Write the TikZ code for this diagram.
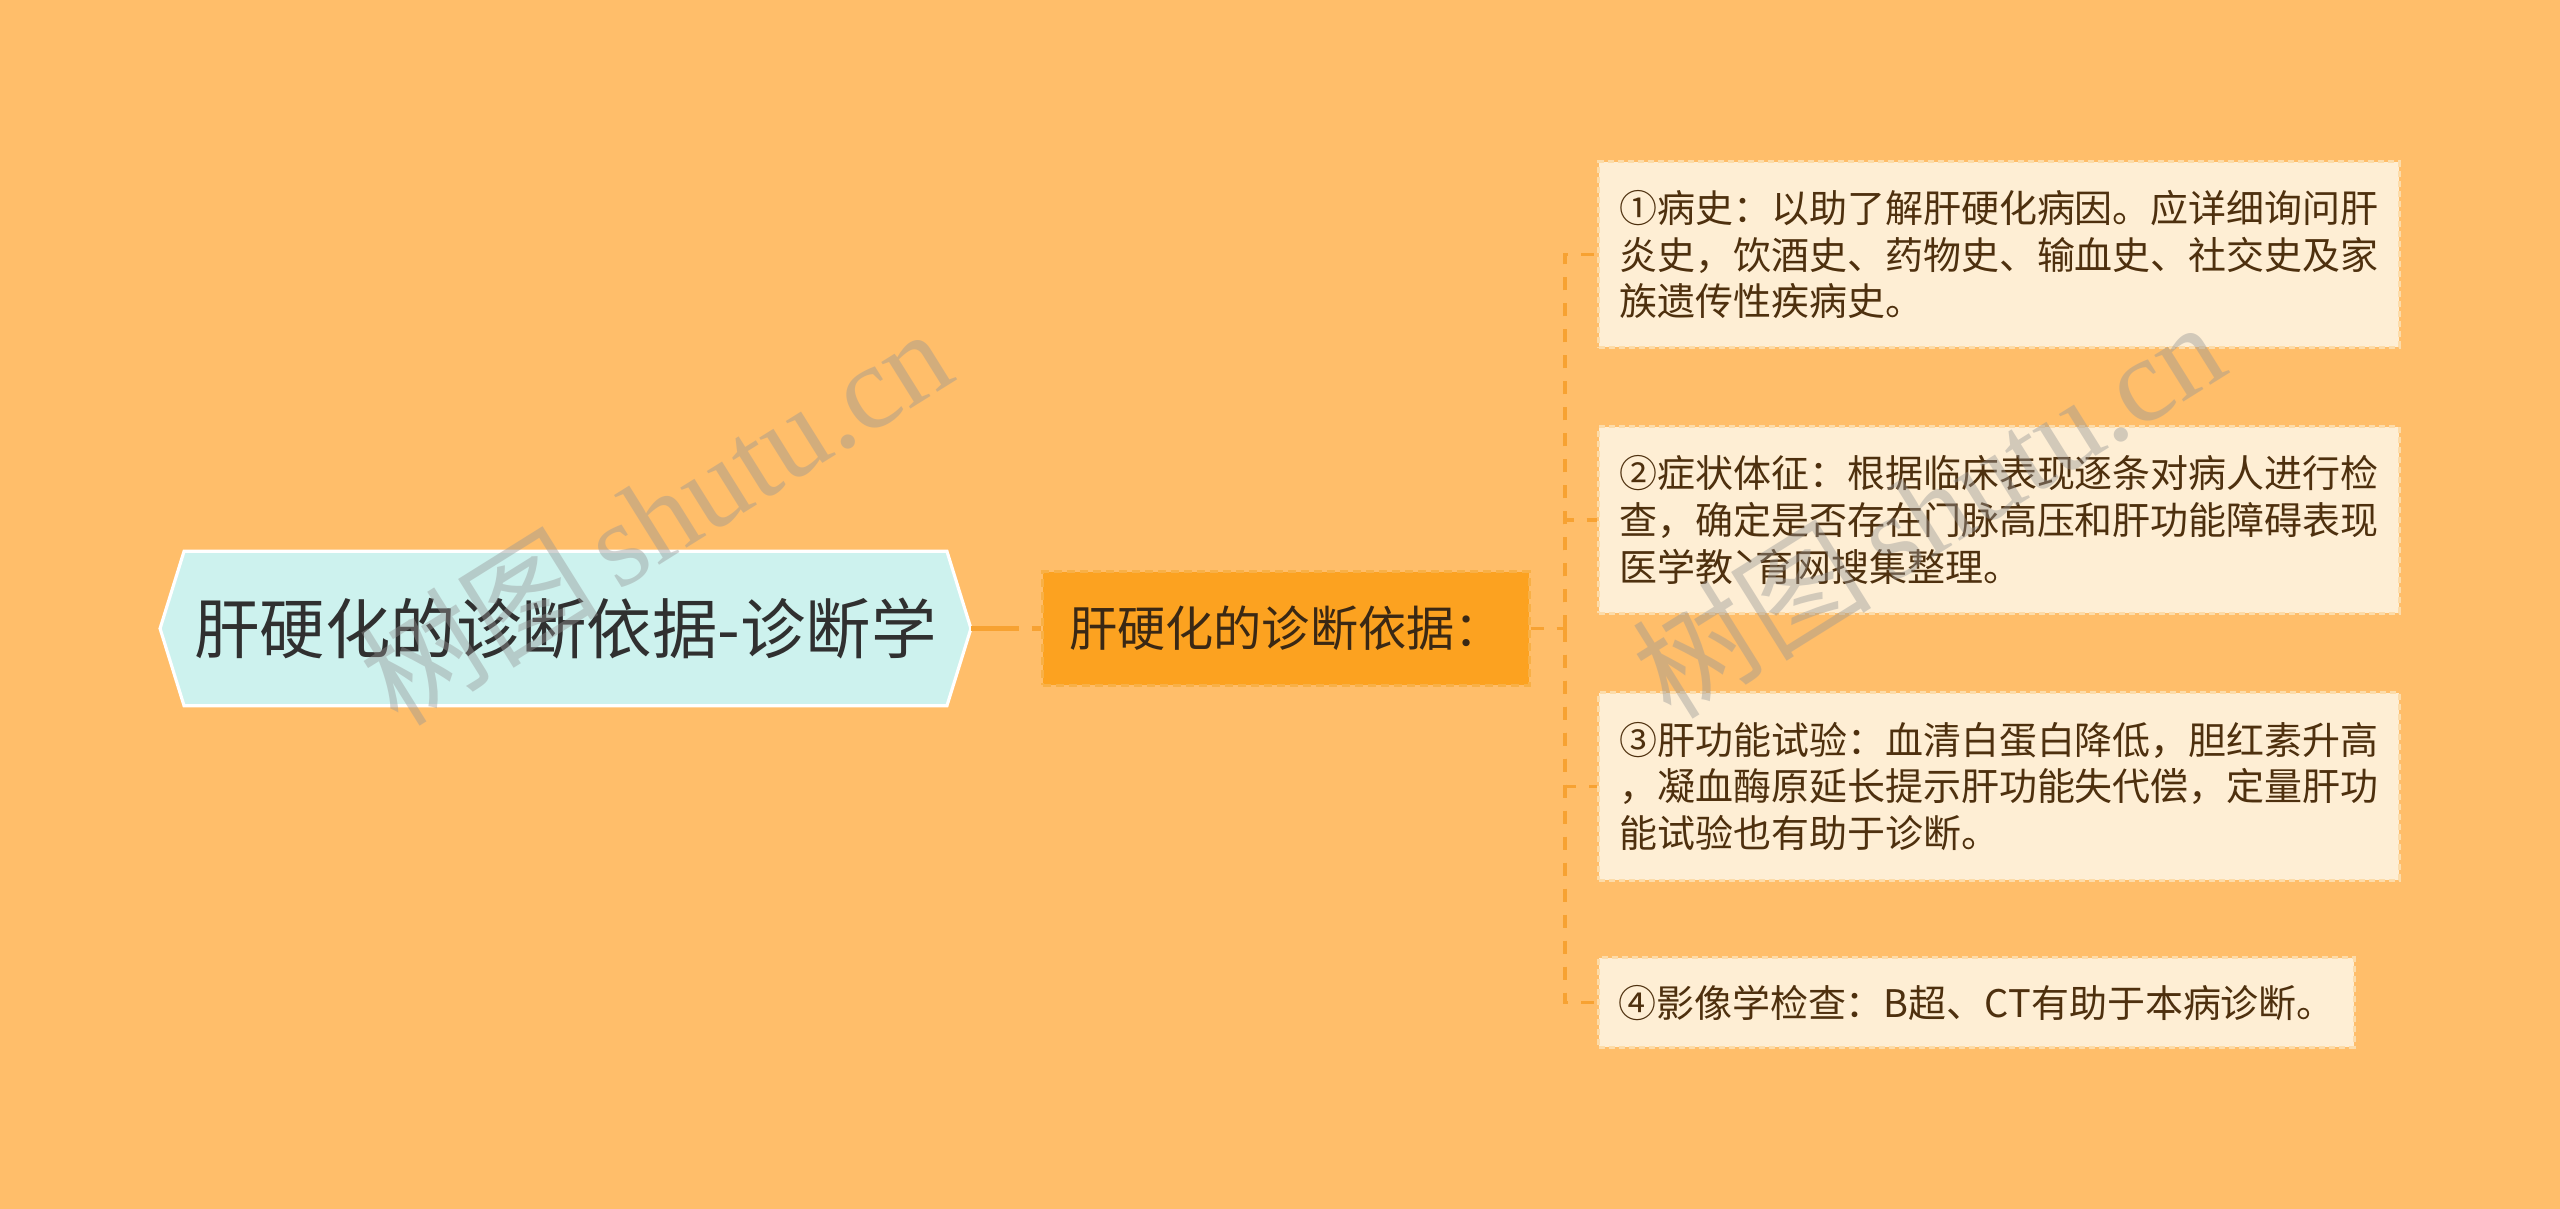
\documentclass[tikz,border=0pt]{standalone}
\usepackage{fontspec}
\setmainfont{Noto Sans CJK SC}
\newfontfamily\wmlatin{Liberation Serif}
\definecolor{bgc}{RGB}{255,190,106}
\definecolor{connc}{RGB}{247,162,50}
\definecolor{rootfill}{RGB}{205,242,238}
\definecolor{roottext}{RGB}{48,48,48}
\definecolor{midfill}{RGB}{252,162,32}
\definecolor{midborder}{RGB}{248,176,70}
\definecolor{midtext}{RGB}{58,40,20}
\definecolor{leaffill}{RGB}{254,238,212}
\definecolor{leafborder}{RGB}{252,220,170}
\definecolor{leaftext}{RGB}{78,48,14}
\definecolor{wmc}{RGB}{150,150,150}
\tikzset{
  conn/.style={draw=connc, line width=1pt, dash pattern=on 0.13cm off 0.13cm},
  rootconn/.style={draw=connc, line width=1.45pt, dash pattern=on 0.48cm off 0.13cm},
  rootbox/.style={inner sep=0pt, minimum width=8.09cm, minimum height=1.53cm,
    text=roottext, font=\fontsize{18.6pt}{22pt}\selectfont},
  midbox/.style={draw=midborder, fill=midfill, line width=0.85pt,
    dash pattern=on 0.08cm off 0.05cm, inner sep=0pt,
    minimum width=4.86cm, minimum height=1.13cm,
    text=midtext, font=\fontsize{13.7pt}{16pt}\selectfont},
  leafbox/.style={draw=leafborder, fill=leaffill, line width=0.85pt,
    dash pattern=on 0.06cm off 0.04cm, inner sep=0pt, align=left,
    text=leaftext, font=\fontsize{10.8pt}{13.3pt}\selectfont},
  wm/.style={text=wmc, opacity=0.42, rotate=32, inner sep=0pt}
}
\begin{document}
\begin{tikzpicture}[x=0.01cm,y=-0.01cm]
\useasboundingbox (0,0) rectangle (2560,1209);
\fill[bgc] (0,0) rectangle (2560,1209);

% root
\node[rootbox] (root) at (565.5,628.5) {};
\fill[rootfill, draw=white, line width=0.9pt]
  ([xshift=0.24cm]root.north west) -- ([xshift=-0.24cm]root.north east) -- (root.east)
  -- ([xshift=-0.24cm]root.south east) -- ([xshift=0.24cm]root.south west) -- (root.west) -- cycle;
\node[rootbox] (roottxt) at (root.center) {肝硬化的诊断依据-诊断学};

% middle
\node[midbox] (mid) at (1286,628.5) {肝硬化的诊断依据：};

% leaves
\node[leafbox, minimum width=8cm, minimum height=1.85cm] (l1) at (1999,254.5)
  {①病史：以助了解肝硬化病因。应详细询问肝\\炎史，饮酒史、药物史、输血史、社交史及家\\族遗传性疾病史。};
\node[leafbox, minimum width=8cm, minimum height=1.86cm] (l2) at (1999,520)
  {②症状体征：根据临床表现逐条对病人进行检\\查，确定是否存在门脉高压和肝功能障碍表现\\医学教ˋ育网搜集整理。};
\node[leafbox, minimum width=8cm, minimum height=1.87cm] (l3) at (1999,786.5)
  {③肝功能试验：血清白蛋白降低，胆红素升高\\，凝血酶原延长提示肝功能失代偿，定量肝功\\能试验也有助于诊断。};
\node[leafbox, minimum width=7.55cm, minimum height=0.89cm] (l4) at (1976.5,1002.5)
  {④影像学检查：B超、CT有助于本病诊断。};

% connectors
\coordinate (bus) at (1565,628.5);
\draw[rootconn] (root.east) -- (mid.west);
\draw[conn] (mid.east) -- (bus);
\draw[conn] (bus) |- (l1.west);
\draw[conn] (bus) |- (l2.west);
\draw[conn] (bus) |- (l3.west);
\draw[conn] (bus) |- (l4.west);

% watermarks
\node[wm] (wm1) at (655,515) {\fontsize{34pt}{34pt}\selectfont 树图\,{\wmlatin shutu.cn}};
\node[wm] (wm2) at (1928,508) {\fontsize{34pt}{34pt}\selectfont 树图\,{\wmlatin shutu.cn}};
\end{tikzpicture}
\end{document}
